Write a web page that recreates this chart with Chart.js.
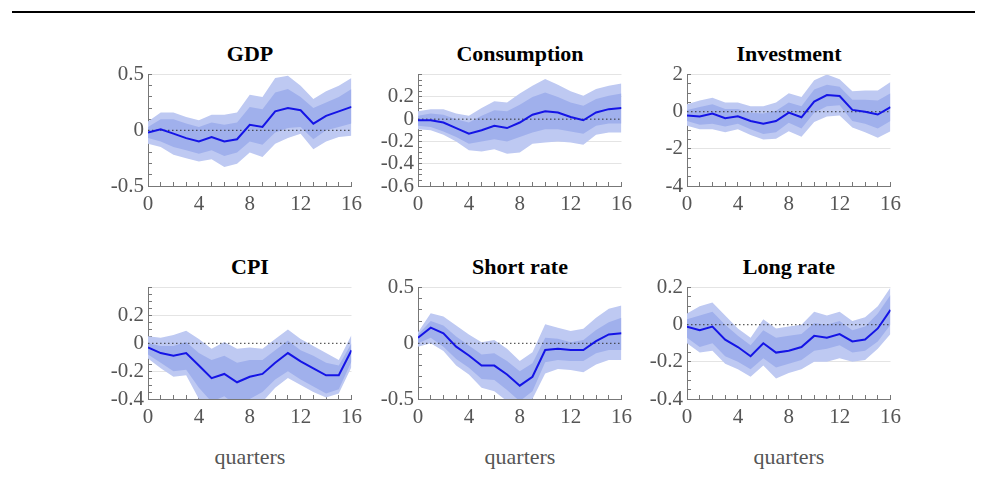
<!DOCTYPE html>
<html><head><meta charset="utf-8">
<script src="https://cdn.jsdelivr.net/npm/chart.js@4/dist/chart.umd.min.js"></script>
<style>
body{margin:0;background:#fff;width:986px;height:490px;position:relative;overflow:hidden;font-family:"Liberation Serif",serif}
.rule{position:absolute;left:12px;top:11px;width:963px;height:2px;background:#000}
.t{position:absolute;width:204px;text-align:center;font-weight:bold;font-size:22px;color:#000}
.q{position:absolute;width:204px;text-align:center;font-size:22px;color:#555}
canvas{position:absolute}
</style></head><body>
<div class="rule"></div>
<script>
const quarters=[0,1,2,3,4,5,6,7,8,9,10,11,12,13,14,15,16];
const titles=["GDP","Consumption","Investment","CPI","Short rate","Long rate"];
const gdpMed=[-0.02,0.01,-0.03,-0.07,-0.1,-0.06,-0.1,-0.08,0.05,0.03,0.17,0.2,0.18,0.06,0.13,0.17,0.21];
const gdpOutHi=[0.08,0.16,0.16,0.12,0.09,0.14,0.14,0.16,0.32,0.3,0.47,0.49,0.4,0.28,0.35,0.4,0.47];
const gdpInHi=[0.03,0.1,0.1,0.06,0.03,0.07,0.05,0.07,0.21,0.19,0.34,0.37,0.3,0.2,0.25,0.3,0.37];
const gdpInLo=[-0.07,-0.1,-0.15,-0.18,-0.21,-0.18,-0.23,-0.2,-0.1,-0.13,-0.02,0.02,0.03,-0.08,0.0,0.03,0.06];
const gdpOutLo=[-0.12,-0.15,-0.22,-0.25,-0.28,-0.26,-0.33,-0.3,-0.2,-0.24,-0.12,-0.07,-0.03,-0.17,-0.1,-0.06,-0.05];
const conMed=[-0.01,-0.01,-0.03,-0.08,-0.13,-0.1,-0.06,-0.08,-0.03,0.04,0.07,0.06,0.02,-0.01,0.06,0.09,0.1];
const conOutHi=[0.07,0.09,0.09,0.05,0.03,0.1,0.16,0.15,0.23,0.3,0.36,0.31,0.25,0.21,0.27,0.3,0.32];
const conInHi=[0.03,0.05,0.04,0.0,-0.03,0.03,0.08,0.07,0.13,0.2,0.24,0.2,0.15,0.12,0.18,0.21,0.23];
const conInLo=[-0.06,-0.07,-0.11,-0.16,-0.22,-0.2,-0.18,-0.2,-0.16,-0.12,-0.09,-0.09,-0.11,-0.13,-0.06,-0.04,-0.04];
const conOutLo=[-0.09,-0.1,-0.14,-0.2,-0.28,-0.29,-0.27,-0.31,-0.3,-0.22,-0.21,-0.2,-0.21,-0.23,-0.14,-0.12,-0.12];
const invMed=[-0.2,-0.25,-0.1,-0.35,-0.25,-0.5,-0.65,-0.5,-0.05,-0.3,0.55,0.9,0.85,0.1,0.0,-0.15,0.25];
const invOutHi=[0.4,0.6,0.75,0.5,0.5,0.3,0.3,0.5,1.0,0.8,1.7,2.0,1.75,1.1,1.15,1.15,1.6];
const invInHi=[0.1,0.25,0.4,0.15,0.15,-0.05,-0.1,0.05,0.5,0.3,1.2,1.45,1.35,0.65,0.65,0.6,1.0];
const invInLo=[-0.5,-0.7,-0.65,-0.8,-0.65,-0.95,-1.2,-1.1,-0.6,-0.9,-0.05,0.3,0.35,-0.5,-0.65,-0.9,-0.5];
const invOutLo=[-0.75,-0.95,-0.95,-1.1,-0.95,-1.25,-1.5,-1.45,-1.05,-1.35,-0.55,-0.25,-0.2,-0.85,-1.1,-1.4,-1.05];
const cpiMed=[-0.03,-0.07,-0.09,-0.07,-0.16,-0.25,-0.22,-0.28,-0.24,-0.22,-0.14,-0.07,-0.13,-0.18,-0.23,-0.23,-0.05];
const cpiOutHi=[0.05,0.04,0.06,0.09,0.03,-0.04,0.01,-0.04,-0.03,-0.04,0.03,0.1,0.03,-0.02,-0.07,-0.12,0.06];
const cpiInHi=[0.0,-0.02,-0.02,0.01,-0.07,-0.12,-0.09,-0.14,-0.12,-0.12,-0.05,0.02,-0.05,-0.09,-0.14,-0.16,0.0];
const cpiInLo=[-0.08,-0.14,-0.2,-0.19,-0.32,-0.42,-0.38,-0.45,-0.4,-0.35,-0.26,-0.2,-0.26,-0.31,-0.36,-0.33,-0.13];
const cpiOutLo=[-0.11,-0.18,-0.24,-0.23,-0.4,-0.5,-0.45,-0.5,-0.48,-0.42,-0.32,-0.25,-0.3,-0.35,-0.39,-0.36,-0.17];
const srMed=[0.05,0.14,0.09,-0.03,-0.11,-0.2,-0.2,-0.28,-0.38,-0.3,-0.06,-0.05,-0.06,-0.06,0.02,0.08,0.09];
const srOutHi=[0.1,0.27,0.24,0.16,0.08,0.01,0.03,-0.05,-0.16,-0.08,0.17,0.14,0.11,0.13,0.23,0.31,0.34];
const srInHi=[0.08,0.2,0.16,0.06,-0.02,-0.1,-0.09,-0.16,-0.25,-0.18,0.05,0.04,0.01,0.03,0.12,0.19,0.23];
const srInLo=[0.0,0.05,-0.03,-0.14,-0.22,-0.32,-0.33,-0.42,-0.52,-0.43,-0.17,-0.15,-0.16,-0.16,-0.09,-0.06,-0.06];
const srOutLo=[-0.03,0.0,-0.07,-0.2,-0.28,-0.4,-0.43,-0.52,-0.6,-0.5,-0.27,-0.23,-0.24,-0.26,-0.19,-0.15,-0.15];
const lrMed=[-0.01,-0.03,-0.01,-0.08,-0.12,-0.17,-0.1,-0.15,-0.14,-0.12,-0.06,-0.07,-0.05,-0.09,-0.08,-0.02,0.08];
const lrOutHi=[0.06,0.1,0.12,0.05,-0.02,-0.07,0.03,-0.02,-0.01,0.0,0.07,0.05,0.07,0.02,0.04,0.1,0.2];
const lrInHi=[0.03,0.05,0.07,0.0,-0.06,-0.11,-0.03,-0.07,-0.06,-0.05,0.01,0.0,0.02,-0.03,-0.01,0.06,0.16];
const lrInLo=[-0.07,-0.12,-0.1,-0.17,-0.2,-0.24,-0.18,-0.23,-0.21,-0.19,-0.14,-0.13,-0.11,-0.15,-0.14,-0.09,0.0];
const lrOutLo=[-0.1,-0.15,-0.14,-0.21,-0.24,-0.28,-0.22,-0.29,-0.26,-0.24,-0.2,-0.2,-0.18,-0.2,-0.19,-0.13,-0.05];
const yMin=[-0.5,-0.6,-4,-0.4,-0.5,-0.4];
const yMax=[0.5,0.4,2,0.4,0.5,0.2];
const yMinor=[0.1,0.05,0.5,0.05,0.1,0.05];
const yMajor=[0.5,0.2,2,0.2,0.5,0.2];
const yLabelMax=[0.5,0.2,2,0.2,0.5,0.2];
const panels=[[gdpMed,gdpOutHi,gdpInHi,gdpInLo,gdpOutLo],[conMed,conOutHi,conInHi,conInLo,conOutLo],[invMed,invOutHi,invInHi,invInLo,invOutLo],
[cpiMed,cpiOutHi,cpiInHi,cpiInLo,cpiOutLo],[srMed,srOutHi,srInHi,srInLo,srOutLo],[lrMed,lrOutHi,lrInHi,lrInLo,lrOutLo]];
const plotL=[148,418,687],plotT=[72,285],PW=204,PH=114,YW=58,PT=10,XH=34,PR=12,SH=8,EW=8;
const isMaj=(v,m)=>Math.abs(v/m-Math.round(v/m))<1e-6;
const fmt=v=>{let r=Math.round(v*100)/100;return r===0?"0":String(r)};
panels.forEach((p,i)=>{
  const col=i%3,row=Math.floor(i/3);
  const t=document.createElement('div');t.className='t';t.textContent=titles[i];
  t.style.left=plotL[col]+'px';t.style.top=(plotT[row]-31)+'px';document.body.appendChild(t);
  if(row===1){const q=document.createElement('div');q.className='q';q.textContent='quarters';
    q.style.left=plotL[col]+'px';q.style.top=(plotT[row]+PH+45)+'px';document.body.appendChild(q);}
  const c=document.createElement('canvas');
  const W=YW+PW+PR+EW,H=PT+SH+PH+XH;
  c.style.left=(plotL[col]-YW)+'px';c.style.top=(plotT[row]-PT-SH)+'px';c.style.width=W+'px';c.style.height=H+'px';
  document.body.appendChild(c);
  const pts=a=>a.map((v,k)=>({x:quarters[k],y:v}));
  const zero=quarters.map(x=>({x,y:0}));
  new Chart(c,{type:'line',data:{datasets:[
    {data:pts(p[1]),fill:'+3',backgroundColor:'rgba(190,201,242,1)',borderWidth:0,pointRadius:0,order:5},
    {data:pts(p[2]),fill:'+1',backgroundColor:'rgba(160,176,236,1)',borderWidth:0,pointRadius:0,order:4},
    {data:pts(p[3]),fill:false,borderWidth:0,pointRadius:0,order:3},
    {data:pts(p[4]),fill:false,borderWidth:0,pointRadius:0,order:6},
    {data:zero,fill:false,borderColor:'#333',borderWidth:1,borderDash:[1.5,2.5],pointRadius:0,order:2},
    {data:pts(p[0]),fill:false,borderColor:'#1414e6',borderWidth:2,pointRadius:0,order:1}
  ]},options:{responsive:false,devicePixelRatio:1,animation:false,
    layout:{padding:{top:PT,right:PR,left:0,bottom:0}},
    plugins:{legend:{display:false},tooltip:{enabled:false}},
    scales:{
      x:{type:'linear',min:0,max:16,afterFit:s=>{s.height=XH},
        afterBuildTicks:s=>{s.ticks=quarters.map(v=>({value:v}))},
        ticks:{autoSkip:false,maxRotation:0,color:'#555',padding:10,font:{family:'Liberation Serif',size:21},callback:v=>v%4===0?String(v):''},
        grid:{display:true,drawOnChartArea:false,tickLength:-4,color:'#777'},border:{color:'#777'}},
      y:{min:yMin[i],max:yMax[i],afterFit:s=>{s.width=YW},
        afterBuildTicks:s=>{const a=[];const n=Math.round((yMax[i]-yMin[i])/yMinor[i]);for(let k=0;k<=n;k++)a.push({value:Math.round((yMin[i]+k*yMinor[i])*1000)/1000});s.ticks=a},
        ticks:{autoSkip:false,color:'#555',padding:8,font:{family:'Liberation Serif',size:21},
          callback:v=>(isMaj(v,yMajor[i])&&v<=yLabelMax[i]+1e-9)?fmt(v):''},
        grid:{tickLength:-4,color:ctx=>(ctx.tick&&isMaj(ctx.tick.value,yMajor[i])&&Math.abs(ctx.tick.value)>1e-9)?'#e4e4e4':'rgba(0,0,0,0)',
          tickColor:'#777'},border:{color:'#777'}}
    }}});
});
</script>
</body></html>
